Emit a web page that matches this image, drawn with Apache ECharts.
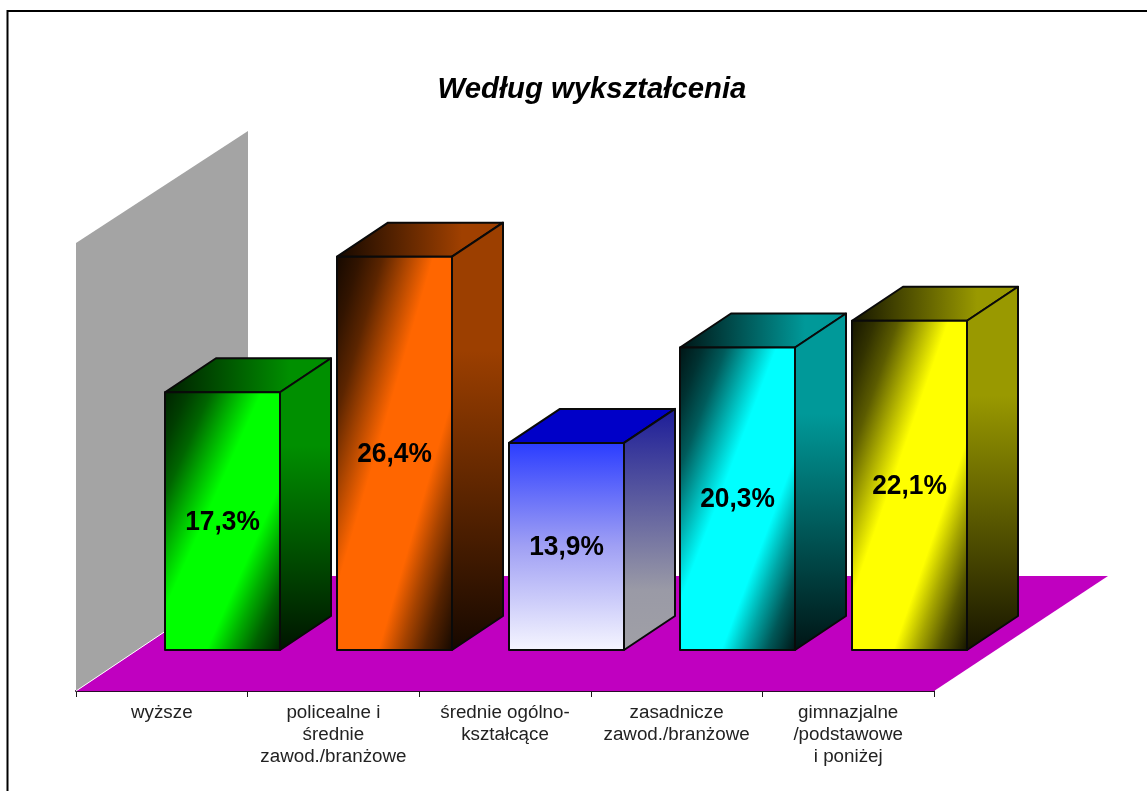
<!DOCTYPE html>
<html>
<head>
<meta charset="utf-8">
<style>
  html, body { margin: 0; padding: 0; background: #fff; }
  #chart { width: 1147px; height: 791px; }
</style>
<script src="https://cdn.jsdelivr.net/npm/echarts@6/dist/echarts.min.js"></script>
</head>
<body>
<div id="chart"></div>
<script>
const categories = [
  'wyższe',
  'policealne i\nśrednie\nzawod./branżowe',
  'średnie ogólno-\nkształcące',
  'zasadnicze\nzawod./branżowe',
  'gimnazjalne\n/podstawowe\ni poniżej'
]
const shares = [17.3, 26.4, 13.9, 20.3, 22.1]
const axisMax = 30

// [dark, bright, side top, side bottom, top face left, top face right]
const shades = [
  ['#002400', '#00ff00', '#008f00', '#001400', '#001e00', '#008f00'],
  ['#160900', '#ff6600', '#9c3f00', '#160800', '#140800', '#a04000'],
  null,
  ['#001616', '#00ffff', '#009999', '#001414', '#001414', '#009999'],
  ['#161600', '#ffff00', '#999900', '#161400', '#141400', '#999900']
]

// 3d look of the plot
const floorDepth = [172, -115]
const barInset = [61.1, -41]
const barDepth = [51, -34]
const barWidth = 115

// offset -> how far from dark to bright
const frontRamp = [[0, 0], [0.1, 0.12], [0.2, 0.3], [0.3, 0.62], [0.42, 1], [0.68, 1], [0.78, 0.62], [0.88, 0.28], [1, 0]]

// bands run parallel to the bottom-left / top-right diagonal of the face
function diagonalGradient(x, y, w, h, dark, bright) {
  const k = 2 * w * h / (w * w + h * h)
  const stops = frontRamp.map(([offset, mix]) => ({
    offset,
    color: echarts.color.lerp(mix, [dark, bright])
  }))
  return new echarts.graphic.LinearGradient(x, y, x + k * h, y + k * w, stops, true)
}

function renderRoom(params) {
  const { x, y, width, height } = params.coordSys
  const bottom = y + height
  const [dx, dy] = floorDepth
  return {
    type: 'group',
    children: [
      {
        type: 'polygon',
        shape: { points: [[x, bottom], [x + dx, bottom + dy], [x + dx, y + dy + 2], [x, y - 1]] },
        style: { fill: '#a4a4a4' }
      },
      {
        type: 'polygon',
        shape: { points: [[x, bottom], [x + dx, bottom + dy], [x + width + dx + 2, bottom + dy], [x + width, bottom]] },
        style: { fill: '#c000c0' }
      },
      {
        type: 'line',
        shape: { x1: x, y1: bottom, x2: x + dx, y2: bottom + dy },
        style: { stroke: '#fff', lineWidth: 1 }
      }
    ]
  }
}

function renderBar(params, api) {
  const i = api.value(0)
  const top = api.coord([i, api.value(1)])
  const base = api.coord([i, 0])
  const w = barWidth
  const x = Math.round(base[0] + barInset[0] - w / 2)
  const y1 = base[1] + barInset[1]
  const y0 = top[1] + barInset[1]
  const h = y1 - y0
  const [dx, dy] = barDepth
  const s = shades[i]

  let frontFill, sideFill, topFill
  if (s) {
    frontFill = diagonalGradient(x, y0, w, h, s[0], s[1])
    sideFill = new echarts.graphic.LinearGradient(0, 0, 0, 1, [
      { offset: 0, color: s[2] },
      { offset: 0.3, color: s[2] },
      { offset: 1, color: s[3] }
    ])
    topFill = new echarts.graphic.LinearGradient(0, 0, 1, 0, [
      { offset: 0, color: s[4] },
      { offset: 0.75, color: s[5] },
      { offset: 1, color: s[5] }
    ])
  } else {
    // the blue bar fades to white from top to bottom
    frontFill = new echarts.graphic.LinearGradient(0, 0, 0, 1, [
      { offset: 0, color: '#2a3cff' },
      { offset: 0.5, color: '#a0a0f4' },
      { offset: 1, color: '#f6f6ff' }
    ])
    sideFill = new echarts.graphic.LinearGradient(0, 0, 0, 1, [
      { offset: 0, color: '#1c1c98' },
      { offset: 0.75, color: '#9a9aa6' },
      { offset: 1, color: '#a0a0a6' }
    ])
    topFill = '#0000c8'
  }

  const line = { stroke: '#0a0a0a', lineWidth: 2, lineJoin: 'round' }
  return {
    type: 'group',
    children: [
      {
        type: 'polygon',
        shape: { points: [[x, y0], [x + dx, y0 + dy], [x + w + dx, y0 + dy], [x + w, y0]] },
        style: { fill: topFill, ...line }
      },
      {
        type: 'polygon',
        shape: { points: [[x + w, y0], [x + w + dx, y0 + dy], [x + w + dx, y1 + dy], [x + w, y1]] },
        style: { fill: sideFill, ...line }
      },
      {
        type: 'rect',
        shape: { x: x, y: y0, width: w, height: h },
        style: { fill: frontFill, ...line }
      },
      {
        type: 'text',
        x: x + w / 2,
        y: y0 + h / 2 + 1,
        style: {
          text: api.value(1).toFixed(1).replace('.', ',') + '%',
          x: 0,
          y: 0,
          align: 'center',
          verticalAlign: 'middle',
          fill: '#000',
          font: 'bold 28px "Liberation Sans", Arial, sans-serif'
        },
        scaleX: 0.94
      }
    ]
  }
}

const chart = echarts.init(document.getElementById('chart'))
chart.setOption({
  animation: false,
  backgroundColor: '#fff',
  title: {
    text: 'Według wykształcenia',
    left: 587,
    top: 70,
    textAlign: 'center',
    textStyle: {
      color: '#000',
      fontFamily: '"Liberation Sans", Arial, sans-serif',
      fontSize: 29.3,
      fontWeight: 'bold',
      fontStyle: 'italic'
    }
  },
  graphic: [
    {
      type: 'rect',
      silent: true,
      shape: { x: 7.5, y: 11, width: 1300, height: 900 },
      style: { fill: 'none', stroke: '#000', lineWidth: 2 }
    }
  ],
  grid: { left: 76, top: 244, width: 858, height: 447, containLabel: false },
  xAxis: {
    type: 'category',
    data: categories,
    axisLine: { lineStyle: { color: '#2a0a2a', width: 2 } },
    axisTick: { show: true, alignWithLabel: false, length: 6, lineStyle: { color: '#1a1a1a' } },
    axisLabel: {
      interval: 0,
      margin: 11,
      color: '#222',
      fontFamily: '"Liberation Sans", Arial, sans-serif',
      fontSize: 18.8,
      lineHeight: 22
    }
  },
  yAxis: { type: 'value', min: 0, max: axisMax, show: false },
  series: [
    {
      type: 'custom',
      clip: false,
      silent: true,
      z: 1,
      data: [[0, 0]],
      renderItem: renderRoom
    },
    {
      type: 'custom',
      clip: false,
      z: 2,
      data: shares.map((v, i) => [i, v]),
      encode: { x: 0, y: 1 },
      renderItem: renderBar
    }
  ]
})
</script>
</body>
</html>
